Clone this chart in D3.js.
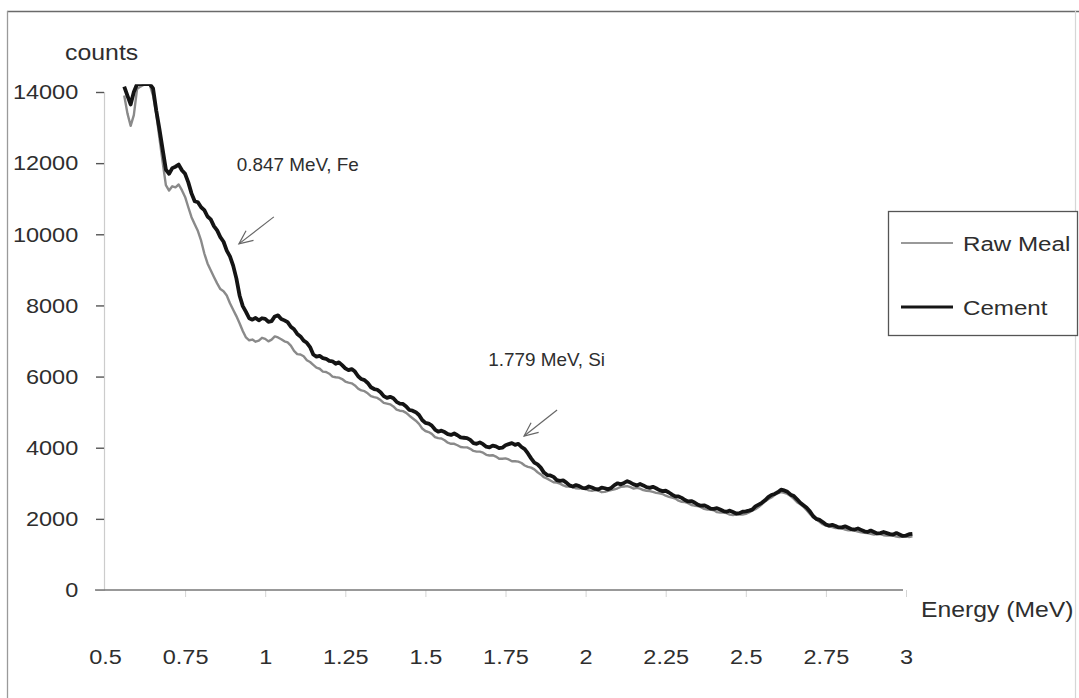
<!DOCTYPE html>
<html>
<head>
<meta charset="utf-8">
<script src="https://cdn.jsdelivr.net/npm/d3@7"></script>
<style>
  html, body { margin: 0; padding: 0; background: #fff; }
  svg { display: block; }
  text { font-family: "Liberation Sans", Arial, sans-serif; fill: #2e2e2e; }
</style>
</head>
<body>
<svg id="chart" width="1079" height="698"></svg>
<script>
// Gamma spectrum channels (MeV)
const energy = [
  0.56, 0.57, 0.58, 0.59, 0.60, 0.61, 0.62, 0.63, 0.64, 0.65,
  0.66, 0.67, 0.68, 0.69, 0.70, 0.71, 0.72, 0.73, 0.74, 0.75,
  0.76, 0.77, 0.78, 0.79, 0.80, 0.81, 0.82, 0.83, 0.84, 0.85,
  0.86, 0.87, 0.88, 0.89, 0.90, 0.91, 0.92, 0.93, 0.94, 0.95,
  0.96, 0.97, 0.98, 0.99, 1.00, 1.01, 1.02, 1.03, 1.04, 1.05,
  1.06, 1.07, 1.08, 1.09, 1.10, 1.11, 1.12, 1.13, 1.14, 1.15,
  1.16, 1.17, 1.18, 1.19, 1.20, 1.21, 1.22, 1.23, 1.24, 1.25,
  1.26, 1.27, 1.28, 1.29, 1.30, 1.31, 1.32, 1.33, 1.34, 1.35,
  1.36, 1.37, 1.38, 1.39, 1.40, 1.41, 1.42, 1.43, 1.44, 1.45,
  1.46, 1.47, 1.48, 1.49, 1.50, 1.51, 1.52, 1.53, 1.54, 1.55,
  1.56, 1.57, 1.58, 1.59, 1.60, 1.61, 1.62, 1.63, 1.64, 1.65,
  1.66, 1.67, 1.68, 1.69, 1.70, 1.71, 1.72, 1.73, 1.74, 1.75,
  1.76, 1.77, 1.78, 1.79, 1.80, 1.81, 1.82, 1.83, 1.84, 1.85,
  1.86, 1.87, 1.88, 1.89, 1.90, 1.91, 1.92, 1.93, 1.94, 1.95,
  1.96, 1.97, 1.98, 1.99, 2.00, 2.01, 2.02, 2.03, 2.04, 2.05,
  2.06, 2.07, 2.08, 2.09, 2.10, 2.11, 2.12, 2.13, 2.14, 2.15,
  2.16, 2.17, 2.18, 2.19, 2.20, 2.21, 2.22, 2.23, 2.24, 2.25,
  2.26, 2.27, 2.28, 2.29, 2.30, 2.31, 2.32, 2.33, 2.34, 2.35,
  2.36, 2.37, 2.38, 2.39, 2.40, 2.41, 2.42, 2.43, 2.44, 2.45,
  2.46, 2.47, 2.48, 2.49, 2.50, 2.51, 2.52, 2.53, 2.54, 2.55,
  2.56, 2.57, 2.58, 2.59, 2.60, 2.61, 2.62, 2.63, 2.64, 2.65,
  2.66, 2.67, 2.68, 2.69, 2.70, 2.71, 2.72, 2.73, 2.74, 2.75,
  2.76, 2.77, 2.78, 2.79, 2.80, 2.81, 2.82, 2.83, 2.84, 2.85,
  2.86, 2.87, 2.88, 2.89, 2.90, 2.91, 2.92, 2.93, 2.94, 2.95,
  2.96, 2.97, 2.98, 2.99, 3.00, 3.01, 3.02
];

// Raw meal counts per channel
const rawMeal = [
  13900, 13400, 13050, 13350, 14080, 14150, 14200, 14200, 14200, 13900,
  13380, 12700, 12020, 11380, 11230, 11350, 11320, 11400, 11240, 11050,
  10760, 10480, 10280, 10090, 9820, 9460, 9180, 8990, 8800, 8620,
  8460, 8400, 8280, 8060, 7880, 7700, 7500, 7280, 7100, 7020,
  7040, 6980, 7010, 7090, 7060, 6990, 7040, 7130, 7100, 7050,
  6990, 6960, 6870, 6720, 6630, 6620, 6570, 6460, 6410, 6330,
  6250, 6220, 6140, 6130, 6080, 6000, 5980, 5970, 5930, 5860,
  5830, 5810, 5750, 5660, 5610, 5590, 5530, 5450, 5420, 5400,
  5340, 5260, 5240, 5220, 5160, 5070, 5040, 5030, 4980, 4900,
  4830, 4760, 4670, 4540, 4470, 4440, 4390, 4300, 4270, 4260,
  4210, 4140, 4110, 4110, 4070, 4020, 4010, 4010, 3970, 3910,
  3890, 3890, 3860, 3800, 3780, 3790, 3750, 3690, 3690, 3700,
  3670, 3620, 3620, 3610, 3570, 3500, 3460, 3440, 3390, 3310,
  3250, 3170, 3130, 3080, 3030, 3020, 2990, 2940, 2910, 2910,
  2890, 2860, 2850, 2870, 2850, 2800, 2790, 2810, 2790, 2750,
  2760, 2790, 2810, 2830, 2860, 2900, 2910, 2920, 2890, 2850,
  2870, 2850, 2810, 2790, 2780, 2760, 2730, 2720, 2700, 2650,
  2620, 2600, 2570, 2510, 2480, 2470, 2440, 2390, 2370, 2360,
  2330, 2280, 2260, 2260, 2240, 2190, 2180, 2180, 2160, 2120,
  2110, 2120, 2120, 2120, 2140, 2180, 2230, 2270, 2330, 2410,
  2490, 2550, 2600, 2670, 2720, 2750, 2730, 2700, 2640, 2560,
  2470, 2410, 2340, 2240, 2140, 2040, 1980, 1920, 1850, 1810,
  1790, 1770, 1740, 1740, 1730, 1700, 1680, 1680, 1670, 1640,
  1620, 1610, 1600, 1580, 1560, 1570, 1570, 1540, 1530, 1540,
  1530, 1500, 1490, 1500, 1500, 1490, 1510
];

// Cement counts per channel
const cement = [
  14150, 13900, 13650, 14000, 14220, 14220, 14220, 14220, 14220, 14100,
  13480, 12950, 12380, 11820, 11700, 11860, 11900, 11960, 11800, 11700,
  11460, 11150, 10930, 10900, 10760, 10680, 10500, 10420, 10230, 10110,
  9920, 9790, 9540, 9380, 9120, 8760, 8280, 7980, 7820, 7640,
  7600, 7650, 7580, 7640, 7620, 7540, 7560, 7690, 7720, 7620,
  7580, 7530, 7400, 7330, 7200, 7130, 7010, 6950, 6830, 6620,
  6560, 6580, 6520, 6500, 6440, 6430, 6360, 6400, 6320, 6230,
  6180, 6210, 6140, 6010, 5930, 5900, 5820, 5700, 5650, 5630,
  5560, 5450, 5400, 5430, 5390, 5290, 5240, 5230, 5160, 5060,
  5040, 5000, 4920, 4780, 4700, 4680, 4620, 4510, 4450, 4480,
  4440, 4380, 4360, 4400, 4350, 4290, 4280, 4270, 4220, 4130,
  4110, 4150, 4100, 4030, 4010, 4060, 4040, 3990, 4000, 4070,
  4100, 4130, 4080, 4110, 4020, 3960, 3840, 3700, 3580, 3530,
  3440, 3300, 3230, 3220, 3180, 3090, 3070, 3080, 3020, 2940,
  2910, 2950, 2920, 2870, 2860, 2910, 2880, 2840, 2830, 2880,
  2860, 2830, 2870, 2950, 3000, 2970, 3010, 3060, 3020, 2970,
  2940, 2980, 2940, 2890, 2870, 2900, 2860, 2810, 2780, 2790,
  2740, 2680, 2630, 2630, 2590, 2530, 2490, 2500, 2460, 2400,
  2370, 2380, 2340, 2290, 2280, 2300, 2260, 2220, 2200, 2230,
  2190, 2150, 2160, 2200, 2210, 2230, 2260, 2350, 2400, 2450,
  2520, 2610, 2670, 2700, 2750, 2820, 2800, 2760, 2680, 2640,
  2550, 2450, 2380, 2310, 2210, 2080, 2000, 1970, 1910, 1840,
  1810, 1830, 1800, 1760, 1760, 1790, 1750, 1710, 1700, 1730,
  1690, 1650, 1630, 1670, 1630, 1590, 1600, 1630, 1600, 1570,
  1560, 1600, 1560, 1520, 1530, 1570, 1580
];

const xTicks = [0.5, 0.75, 1, 1.25, 1.5, 1.75, 2, 2.25, 2.5, 2.75, 3];
const yTicks = [0, 2000, 4000, 6000, 8000, 10000, 12000, 14000];
const seriesNames = ["Raw Meal", "Cement"];

// Peak annotations: label position and arrow tail/tip in data units
const peakLabels = ["0.847 MeV, Fe", "1.779 MeV, Si"];
const peakLabelPos = [[0.911, 11780], [1.696, 6310]];
const peakArrowTail = [[1.027, 10490], [1.911, 5060]];
const peakArrowTip = [[0.918, 9730], [1.808, 4330]];

const svg = d3.select("#chart");
const x = d3.scaleLinear().domain([0.5, 3]).range([105, 906]);
const y = d3.scaleLinear().domain([0, 14000]).range([590, 92]);

// stretched text helper (wide sans face)
function label(g, str, px, py, size, sx, anchor) {
  return g.append("text")
    .attr("transform", `translate(${px},${py}) scale(${sx},1)`)
    .attr("text-anchor", anchor || "start")
    .style("font-size", size + "px")
    .text(str);
}

// outer frame: dark top and left edges, faint right edge
const frame = svg.append("g").attr("fill", "none");
frame.append("line").attr("x1", 7).attr("x2", 1079).attr("y1", 11.5).attr("y2", 11.5)
  .attr("stroke", "#6a6a6a").attr("stroke-width", 1.6);
frame.append("line").attr("x1", 7.5).attr("x2", 7.5).attr("y1", 11).attr("y2", 698)
  .attr("stroke", "#9a9a9a").attr("stroke-width", 1.3);
frame.append("line").attr("x1", 1075.5).attr("x2", 1075.5).attr("y1", 11).attr("y2", 698)
  .attr("stroke", "#d6d6d6").attr("stroke-width", 1.2);

// y axis
const yAxis = d3.axisLeft(y).tickValues(yTicks).tickSize(8).tickPadding(15)
  .tickFormat(d3.format("d"));
const gy = svg.append("g").attr("transform", `translate(${x(0.5) - 1},0)`).call(yAxis);
gy.select(".domain").attr("stroke", "#cccccc").attr("stroke-width", 1.2);
gy.selectAll(".tick line").attr("stroke", "#555").attr("stroke-width", 1.4);
gy.selectAll(".tick line").filter(d => d === 0).remove();
gy.selectAll(".tick text")
  .style("font-size", "21px").attr("fill", "#2e2e2e")
  .attr("font-family", null)
  .attr("transform", "scale(1.12,1)");

// x axis
const xAxis = d3.axisBottom(x).tickValues(xTicks).tickSize(7).tickPadding(52)
  .tickFormat(d => String(d));
const gx = svg.append("g").attr("transform", `translate(0,${y(0)})`).call(xAxis);
gx.select(".domain").remove();
gx.selectAll(".tick line").attr("stroke", "#d4d4d4");
gx.selectAll(".tick line").filter(d => d === 0.5).remove();
gx.selectAll(".tick text")
  .style("font-size", "21px").attr("fill", "#2e2e2e")
  .attr("font-family", null)
  .attr("transform", "scale(1.12,1)");
gx.append("line")
  .attr("x1", x(0.5) - 10).attr("x2", x(3) - 3)
  .attr("y1", 0).attr("y2", 0)
  .attr("stroke", "#777").attr("stroke-width", 1.5);

// axis titles
label(svg, "counts", 65, 60, 22, 1.13);
label(svg, "Energy (MeV)", 921, 617, 21.5, 1.15);

// spectra
svg.append("clipPath").attr("id", "plotClip")
  .append("rect").attr("x", x(0.5)).attr("y", y(14220))
  .attr("width", x(3.05) - x(0.5)).attr("height", y(0) - y(14220));

const line = d3.line().x(d => x(d[0])).y(d => y(d[1]));
const plot = svg.append("g").attr("clip-path", "url(#plotClip)");
plot.append("path")
  .datum(energy.map((e, i) => [e, rawMeal[i]]))
  .attr("d", line).attr("fill", "none")
  .attr("stroke", "#8a8a8a").attr("stroke-width", 2.4)
  .attr("stroke-linejoin", "round");
plot.append("path")
  .datum(energy.map((e, i) => [e, cement[i]]))
  .attr("d", line).attr("fill", "none")
  .attr("stroke", "#141414").attr("stroke-width", 3.8)
  .attr("stroke-linejoin", "round");

// peak annotations
peakLabels.forEach((t, i) => {
  label(svg, t, x(peakLabelPos[i][0]), y(peakLabelPos[i][1]), 18, 1.05);
  const x1 = x(peakArrowTail[i][0]), y1 = y(peakArrowTail[i][1]);
  const x2 = x(peakArrowTip[i][0]), y2 = y(peakArrowTip[i][1]);
  const ang = Math.atan2(y2 - y1, x2 - x1);
  const len = 15, spread = 0.42;
  const head = [
    [x2 - len * Math.cos(ang - spread), y2 - len * Math.sin(ang - spread)],
    [x2, y2],
    [x2 - len * Math.cos(ang + spread), y2 - len * Math.sin(ang + spread)]
  ];
  svg.append("line").attr("x1", x1).attr("y1", y1).attr("x2", x2).attr("y2", y2)
    .attr("stroke", "#666").attr("stroke-width", 1.2);
  svg.append("path").attr("d", d3.line()(head)).attr("fill", "none")
    .attr("stroke", "#666").attr("stroke-width", 1.2);
});

// legend
const lg = svg.append("g");
lg.append("rect").attr("x", 888.5).attr("y", 211.5).attr("width", 189).attr("height", 124)
  .attr("fill", "#fff").attr("stroke", "#555").attr("stroke-width", 1.3);
const legendStroke = [["#777", 1.6], ["#161616", 2.8]];
seriesNames.forEach((name, i) => {
  const ly = 243 + i * 64;
  lg.append("line").attr("x1", 901).attr("x2", 953).attr("y1", ly).attr("y2", ly)
    .attr("stroke", legendStroke[i][0]).attr("stroke-width", legendStroke[i][1]);
  label(lg, name, 963, ly + 8, 21, 1.15);
});
</script>
</body>
</html>
